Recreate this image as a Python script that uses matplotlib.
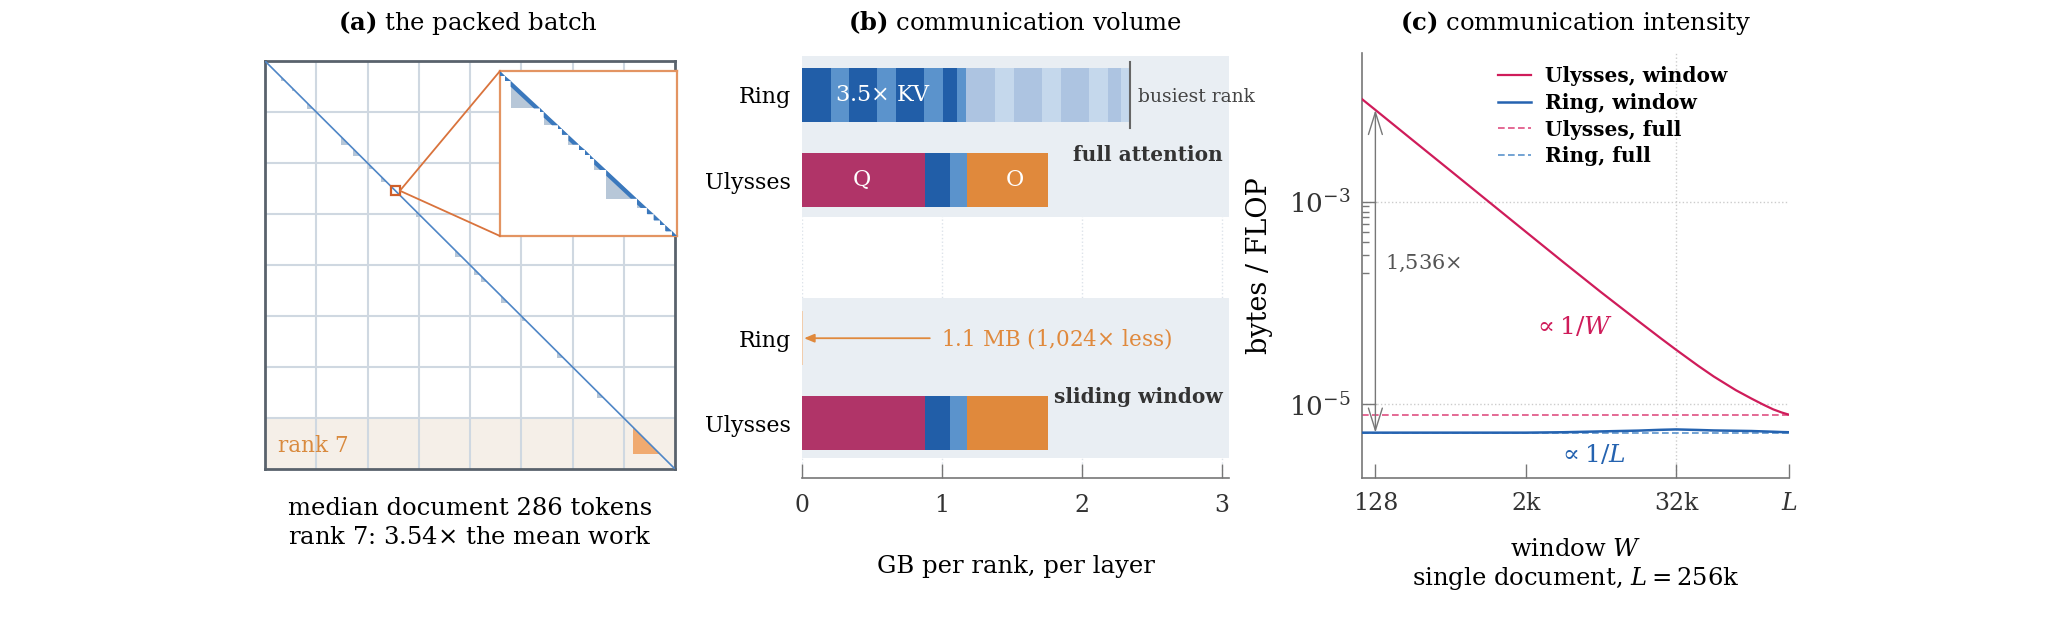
import numpy as np
import matplotlib.pyplot as plt
from matplotlib.patches import Polygon, Rectangle, ConnectionPatch
from matplotlib.ticker import FixedLocator, NullFormatter, NullLocator

plt.rcParams["font.family"] = ["DejaVu Serif"]
plt.rcParams["mathtext.fontset"] = "dejavuserif"

# ---- (a) packed batch: documents as (start, end), fraction of the batch
n_ranks = 8
docs_main = [(0.040, 0.050), (0.066, 0.074), (0.102, 0.118), (0.185, 0.207),
             (0.215, 0.232), (0.254, 0.264), (0.283, 0.297), (0.368, 0.382),
             (0.463, 0.480), (0.510, 0.524), (0.528, 0.542), (0.575, 0.593),
             (0.628, 0.638), (0.711, 0.728), (0.809, 0.827)]
rank7_doc = (0.897, 0.963)
zoom_lo, zoom_hi = 0.307, 0.329
# document boundaries inside the zoomed window (fraction of the window)
zoom_bounds = [0, 0.03, 0.06, 0.227, 0.247, 0.329, 0.35, 0.387, 0.446, 0.48,
               0.51, 0.532, 0.60, 0.774, 0.83, 0.868, 0.906, 0.934, 0.972, 1.0]
zoom_window = 0.035

# ---- (b) communication volume, GB per rank per layer
ring_full_widths = [0.205, 0.131, 0.200, 0.138, 0.200, 0.133, 0.100, 0.067,
                    0.202, 0.136, 0.200, 0.136, 0.200, 0.135, 0.098, 0.059]
ring_full_kinds = ["K", "V"] * 8
ring_full_faded = [False] * 8 + [True] * 8
ulysses_kinds = ["Q", "K", "V", "O"]
ulysses_widths = [0.881, 0.174, 0.121, 0.584]
ring_window_gb = 0.0011
busiest_gb = 2.345

# ---- (c) communication intensity, bytes / FLOP vs window W
W = [100, 128, 256, 512, 1024, 2048, 4096, 8192, 16384, 24576, 32768, 49152,
     65536, 98304, 131072, 163840, 196608, 229376, 262144]
uly_window = [1.03e-2, 8.06e-3, 4.03e-3, 2.02e-3, 1.01e-3, 5.05e-4, 2.53e-4,
              1.28e-4, 6.6e-5, 4.5e-5, 3.45e-5, 2.4e-5, 1.88e-5, 1.38e-5,
              1.14e-5, 9.9e-6, 8.9e-6, 8.3e-6, 7.9e-6]
ring_window = [5.25e-6, 5.25e-6, 5.25e-6, 5.25e-6, 5.25e-6, 5.25e-6, 5.3e-6,
               5.4e-6, 5.5e-6, 5.6e-6, 5.65e-6, 5.58e-6, 5.52e-6, 5.48e-6,
               5.45e-6, 5.4e-6, 5.36e-6, 5.32e-6, 5.3e-6]
uly_full = 7.9e-6
ring_full = 5.25e-6

C_Q = "#b03468"
C_K = "#215ea8"
C_V = "#5b93cc"
C_O = "#e0893c"
C_KF = "#adc4e1"
C_VF = "#c5d8ec"
C_BG = "#e9eef3"
C_ULY = "#cf1c5a"
C_ULYF = "#df4f82"
C_RING = "#2563b0"
C_RINGF = "#5b93cc"

FW, FH = 2048, 619
fig = plt.figure(figsize=(FW / 100, FH / 100), dpi=100)


def box(x0, y0, x1, y1):
    return [x0 / FW, 1 - y1 / FH, (x1 - x0) / FW, (y1 - y0) / FH]


def tri(a, b):
    return [(a, a), (a, b), (b, b)]


def band(a, b, w):
    if b - a <= w:
        return tri(a, b)
    return [(a, a), (a, a + w), (b - w, b), (b, b)]


# ================= (a)
ax = fig.add_axes(box(265, 61, 675, 469))
ax.set_xlim(0, 1)
ax.set_ylim(1, 0)
ax.add_patch(Rectangle((0, 7 / n_ranks), 1, 1 / n_ranks, color="#f5efe8", zorder=0))
for k in range(1, n_ranks):
    ax.axvline(k / n_ranks, color="#cfd8e1", lw=1.5, zorder=1)
    ax.axhline(k / n_ranks, color="#cfd8e1", lw=1.5, zorder=1)
for a, b in docs_main:
    ax.add_patch(Polygon(tri(a, b), color="#b7c7d8", lw=0, zorder=2))
ax.add_patch(Polygon(tri(*rank7_doc), color="#f0aa70", lw=0, zorder=2))
ax.plot([0, 1], [0, 1], color="#4f86c6", lw=1.2, zorder=3)
ax.add_patch(Rectangle((zoom_lo, zoom_lo), zoom_hi - zoom_lo, zoom_hi - zoom_lo,
                       fill=False, ec="#cf5f2a", lw=1.6, zorder=4))
ax.set_xticks([])
ax.set_yticks([])
for s in ax.spines.values():
    s.set_color("#59626c")
    s.set_linewidth(2)
ax.text(0.032, 0.944, "rank 7", color="#d98a3e", fontsize=15.5, va="center")
ax.text(0.5, -0.098, "median document 286 tokens", ha="center", va="center",
        fontsize=17.5, transform=ax.transAxes)
ax.text(0.5, -0.167, r"rank 7: 3.54$\times$ the mean work", ha="center", va="center",
        fontsize=17.5, transform=ax.transAxes)

axi = fig.add_axes(box(500, 71, 677, 236))
axi.set_xlim(zoom_lo, zoom_hi)
axi.set_ylim(zoom_hi, zoom_lo)
span = zoom_hi - zoom_lo
for f0, f1 in zip(zoom_bounds[:-1], zoom_bounds[1:]):
    a = zoom_lo + f0 * span
    b = zoom_lo + f1 * span
    axi.add_patch(Polygon(tri(a, b), color="#b7c7d8", lw=0, zorder=2))
    axi.add_patch(Polygon(band(a, b, zoom_window * span), color="#3a78bd", lw=0, zorder=3))
axi.set_xticks([])
axi.set_yticks([])
for s in axi.spines.values():
    s.set_color("#e39462")
    s.set_linewidth(1.6)
for yb in (1, 0):
    fig.add_artist(ConnectionPatch(xyA=(zoom_hi, (zoom_lo + zoom_hi) / 2), coordsA=ax.transData,
                                   xyB=(0, yb), coordsB=axi.transAxes,
                                   color="#d9733c", lw=1.3))

# ================= (b)
ax = fig.add_axes(box(802, 55, 1229, 477.7))
rows = [0, 1, 2.86, 3.86]
ax.set_xlim(0, 3.05)
ax.set_ylim(4.5, -0.47)
for g in (0, 1, 2, 3):
    ax.axvline(g, color="#dde3ea", lw=1, ls=":", zorder=0)
ax.add_patch(Rectangle((0, -0.46), 3.05, 1.89, color=C_BG, lw=0, zorder=0.5))
ax.add_patch(Rectangle((0, 2.39), 3.05, 1.88, color=C_BG, lw=0, zorder=0.5))
h = 0.635
left = 0
for wdt, kind, faded in zip(ring_full_widths, ring_full_kinds, ring_full_faded):
    if faded:
        c = C_KF if kind == "K" else C_VF
    else:
        c = C_K if kind == "K" else C_V
    ax.barh(rows[0], wdt, left=left, height=h, color=c, lw=0, zorder=2)
    left += wdt
kind_color = {"Q": C_Q, "K": C_K, "V": C_V, "O": C_O}
for r in (rows[1], rows[3]):
    left = 0
    for wdt, kind in zip(ulysses_widths, ulysses_kinds):
        ax.barh(r, wdt, left=left, height=h, color=kind_color[kind], lw=0, zorder=2)
        left += wdt
ax.barh(rows[2], ring_window_gb, height=h, color="#f3c79f", ec="#f3c79f", lw=1.2, zorder=2)
ax.plot([busiest_gb, busiest_gb], [-0.39, 0.39], color="#666666", lw=1.5, zorder=3)
ax.text(busiest_gb + 0.055, 0.02, "busiest rank", fontsize=13.5, color="#444444",
        va="center", zorder=3)
ax.text(0.576, 0.0, r"3.5$\times$ KV", color="white", fontsize=16, ha="center",
        va="center", zorder=3)
ax.text(0.43, 1.0, "Q", color="white", fontsize=16, ha="center", va="center", zorder=3)
ax.text(1.52, 1.0, "O", color="white", fontsize=16, ha="center", va="center", zorder=3)
ax.text(3.005, 0.706, "full attention", fontweight="bold", fontsize=14.5, color="#333333",
        ha="right", va="center", zorder=3)
ax.text(3.005, 3.553, "sliding window", fontweight="bold", fontsize=14.5, color="#333333",
        ha="right", va="center", zorder=3)
ax.annotate("", xy=(0.015, rows[2]), xytext=(0.913, rows[2]),
            arrowprops=dict(arrowstyle="-|>,head_length=0.6,head_width=0.25",
                            color=C_O, lw=1.3, shrinkA=0, shrinkB=0), zorder=3)
ax.text(0.995, rows[2], r"1.1 MB (1,024$\times$ less)", color=C_O, fontsize=15.5,
        va="center", zorder=3)
ax.set_yticks(rows, ["Ring", "Ulysses", "Ring", "Ulysses"])
ax.set_xticks([0, 1, 2, 3], ["0", "1", "2", "3"])
ax.tick_params(axis="y", length=0, labelsize=16, pad=8)
ax.tick_params(axis="x", direction="in", length=10, width=1, color="#777777",
               labelsize=17, labelcolor="#333333", pad=12)
for s in ("top", "right", "left"):
    ax.spines[s].set_visible(False)
ax.spines["bottom"].set_color("#777777")
ax.spines["bottom"].set_linewidth(1.2)
ax.text(0.5, -0.211, "GB per rank, per layer", ha="center", va="center",
        fontsize=17.5, transform=ax.transAxes)

# ================= (c)
ax = fig.add_axes(box(1362, 53.3, 1789, 478))
ax.set_xscale("log")
ax.set_yscale("log")
ax.set_xlim(100, 262144)
ax.set_ylim(1.873e-6, 2.92e-2)
ax.axhline(1e-3, color="#cccccc", lw=1, ls=":", zorder=0)
ax.axhline(1e-5, color="#cccccc", lw=1, ls=":", zorder=0)
ax.axvline(32768, color="#cccccc", lw=1, ls=":", zorder=0)
ax.plot(W, [ring_full] * len(W), color=C_RINGF, lw=1.2, ls=(0, (4, 2)), zorder=2,
        label="Ring, full")
ax.plot(W, ring_window, color=C_RING, lw=1.8, zorder=3, label="Ring, window")
ax.plot(W, [uly_full] * len(W), color=C_ULYF, lw=1.2, ls=(0, (4, 2)), zorder=2,
        label="Ulysses, full")
ax.plot(W, uly_window, color=C_ULY, lw=1.6, zorder=3, label="Ulysses, window")
ax.annotate("", xy=(128, uly_window[1]), xytext=(128, ring_window[1]),
            arrowprops=dict(arrowstyle="<->,head_length=0.8,head_width=0.25",
                            color="#777777", lw=1, mutation_scale=20,
                            shrinkA=0, shrinkB=0), zorder=4)
ax.text(152, 2.48e-4, r"1,536$\times$", color="#555555", fontsize=15, va="center")
ax.text(4870, 5.83e-5, r"$\propto 1/W$", color=C_ULY, fontsize=18, ha="center", va="center")
ax.text(6900, 3.16e-6, r"$\propto 1/L$", color=C_RING, fontsize=18, ha="center", va="center")

hd, lb = ax.get_legend_handles_labels()
order = [3, 1, 2, 0]
ax.legend([hd[i] for i in order], [lb[i] for i in order], loc="upper left",
          bbox_to_anchor=(0.31, 0.98), frameon=False, handlelength=1.6,
          handletextpad=0.7, labelspacing=0.34, borderaxespad=0, borderpad=0.2,
          prop={"weight": "bold", "size": 14.5})

ax.set_xticks([128, 2048, 32768, 262144], ["128", "2k", "32k", "$L$"])
ax.xaxis.set_minor_locator(NullLocator())
ax.set_yticks([1e-3, 1e-5], [r"$10^{-3}$", r"$10^{-5}$"])
ax.yaxis.set_minor_locator(FixedLocator([k * 1e-4 for k in range(2, 10)]))
ax.yaxis.set_minor_formatter(NullFormatter())
ax.tick_params(which="major", direction="in", length=10, width=1, color="#777777",
               labelsize=17, labelcolor="#333333", pad=10)
ax.tick_params(axis="y", which="major", labelsize=19, pad=8)
ax.tick_params(which="minor", direction="in", length=5, width=1, color="#777777")
for s in ("top", "right"):
    ax.spines[s].set_visible(False)
for s in ("left", "bottom"):
    ax.spines[s].set_color("#777777")
    ax.spines[s].set_linewidth(1.2)
ax.set_ylabel("bytes / FLOP", fontsize=19.5)
ax.yaxis.set_label_coords(-0.208, 0.5)
ax.text(0.5, -0.1695, "window $W$", ha="center", va="center", fontsize=17.5,
        transform=ax.transAxes)
ax.text(0.5, -0.2355, "single document, $L = 256$k", ha="center", va="center",
        fontsize=17.5, transform=ax.transAxes)

# titles
for xc, t in [(468, r"$\mathbf{(a)}$ the packed batch"),
              (1015.5, r"$\mathbf{(b)}$ communication volume"),
              (1575.5, r"$\mathbf{(c)}$ communication intensity")]:
    fig.text(xc / FW, 1 - 23 / FH, t, ha="center", va="center", fontsize=17.5)

fig.savefig("out.png", dpi=100)
